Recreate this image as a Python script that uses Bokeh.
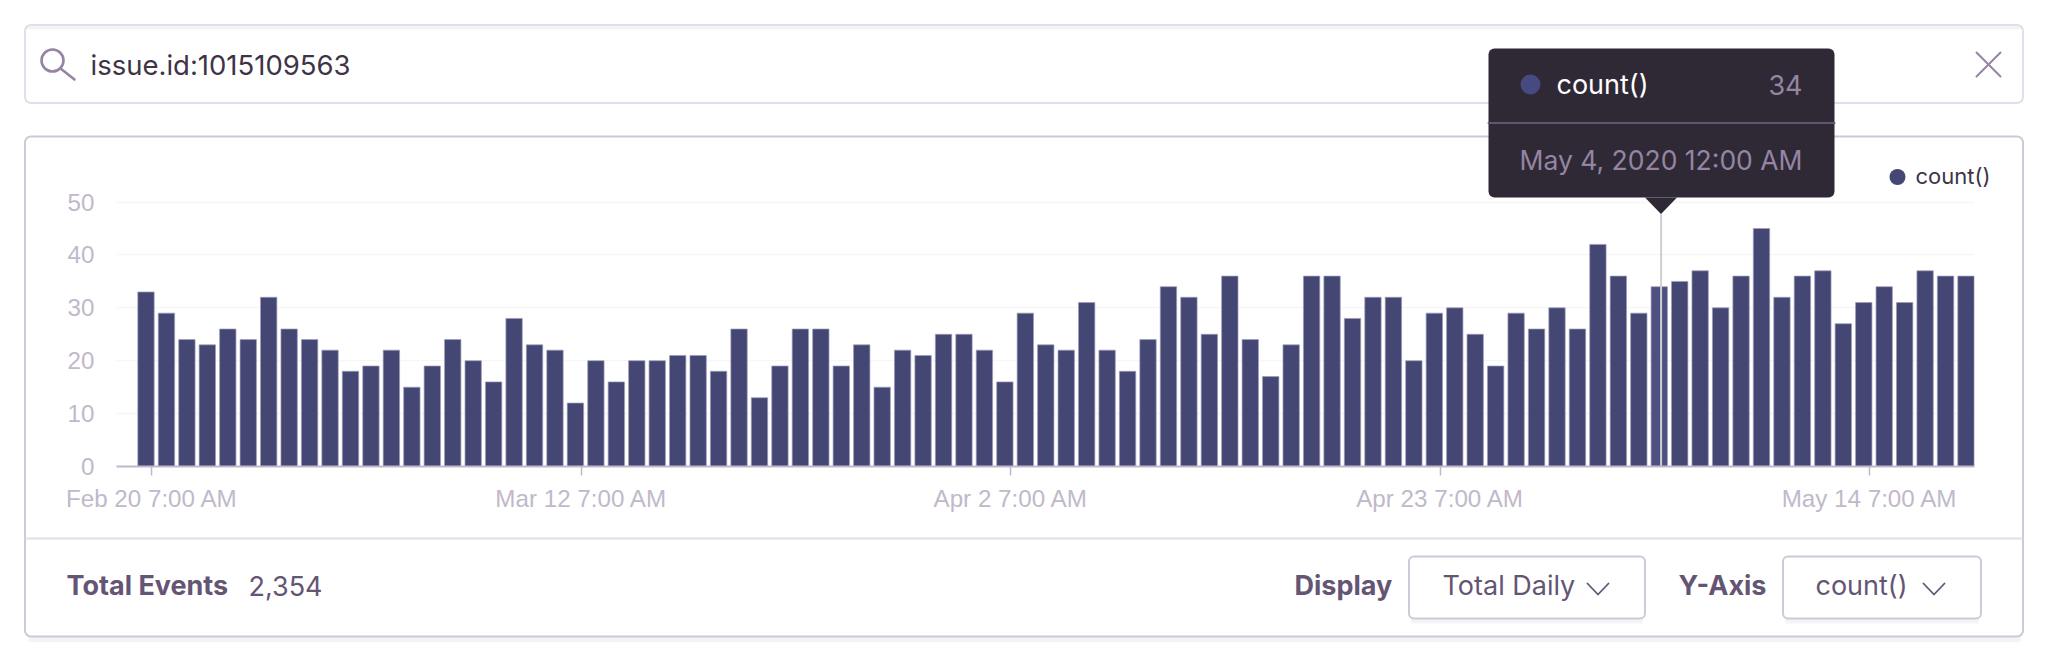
import pandas as pd
from bokeh.core.properties import value
from bokeh.embed import file_html
from bokeh.layouts import column
from bokeh.resources import INLINE
from bokeh.plotting import figure
from bokeh.models import ColumnDataSource, DatetimeTickFormatter, FixedTicker, Range1d

# ---- data ----
counts = [33, 29, 24, 23, 26, 24, 32, 26, 24, 22,
          18, 19, 22, 15, 19, 24, 20, 16, 28, 23,
          22, 12, 20, 16, 20, 20, 21, 21, 18, 26,
          13, 19, 26, 26, 19, 23, 15, 22, 21, 25,
          25, 22, 16, 29, 23, 22, 31, 22, 18, 24,
          34, 32, 25, 36, 24, 17, 23, 36, 36, 28,
          32, 32, 20, 29, 30, 25, 19, 29, 26, 30,
          26, 42, 36, 29, 34, 35, 37, 30, 36, 45,
          32, 36, 37, 27, 31, 34, 31, 37, 36, 36]
first_day = "2020-02-20"
tick_times = ["2020-02-20 07:00", "2020-03-12 07:00", "2020-04-02 07:00",
              "2020-04-23 07:00", "2020-05-14 07:00"]
y_ticks = [0, 10, 20, 30, 40, 50]
selected_day = "2020-05-04"
series_name = "count()"
query_text = "issue.id:1015109563"
tooltip_value = "34"
tooltip_date = "May 4, 2020 12:00 AM"
total_label = "Total Events"
total_value = "2,354"
display_label = "Display"
display_choice = "Total Daily"
yaxis_label = "Y-Axis"
yaxis_choice = "count()"

# ---- colours ----
BAR = "#444674"
BAR_HI = "#4d5080"
BAR_EDGE = "#9c9cb8"
AXIS = "#c1b9ca"
GRID = "#f6f5f7"
BORDER = "#cfc8d6"
BORDER_LIGHT = "#e2dde8"
SHADOW = "#f4f3f6"
TEXT_DARK = "#3e3446"
TEXT_MID = "#645574"
ICON = "#9585a3"
TIP = "#2f2936"
SANS = "Inter"
PLOT_FONT = "Liberation Sans"

DAY = pd.Timedelta(days=1)
dates = pd.date_range(first_day, periods=len(counts), freq="D")
start = dates[0] - 1.4425 * DAY
end = dates[-1] + 0.4156 * DAY
sel = pd.Timestamp(selected_day)
colors = [BAR_HI if d == sel else BAR for d in dates]
source = ColumnDataSource(dict(x=dates, y=counts, c=colors))


def ms(ts):
    return (pd.Timestamp(ts) - pd.Timestamp("1970-01-01")) / pd.Timedelta(milliseconds=1)


W, H = 2052, 652

# ---- the chart itself ----
p = figure(width=W, height=H, x_axis_type="datetime", output_backend="svg", toolbar_location=None,
           x_range=Range1d(ms(start), ms(end)), y_range=Range1d(0, 52),
           min_border_left=116, min_border_right=78, min_border_top=191, min_border_bottom=186,
           background_fill_color="white", border_fill_color="white", outline_line_color=None,
           frame_align=False)
p.vbar(x="x", top="y", width=0.8 * 86400000, bottom=0, source=source, fill_color="c",
       line_color=BAR_EDGE, line_width=1, line_alpha=0.7)
p.segment(x0=[sel + 0.09 * DAY], x1=[sel + 0.09 * DAY], y0=[0], y1=[47.8], line_color="#cfcfd2", line_width=2)

xa = p.xaxis[0]
xa.ticker = FixedTicker(ticks=[ms(t) for t in tick_times])
fmt = "%b %-d %-I:%M %p"
xa.formatter = DatetimeTickFormatter(milliseconds=fmt, seconds=fmt, minsec=fmt, minutes=fmt, hourmin=fmt,
                                     hours=fmt, days=fmt, months=fmt, years=fmt, context=None)
xa.axis_line_color = AXIS
xa.axis_line_width = 2
xa.major_tick_line_color = AXIS
xa.major_tick_line_width = 1.5
xa.major_tick_in = 0
xa.major_tick_out = 9
xa.minor_tick_line_color = None
xa.major_label_text_color = AXIS
xa.major_label_text_font = PLOT_FONT
xa.major_label_text_font_size = "24.2px"
xa.major_label_standoff = 9

ya = p.yaxis[0]
ya.ticker = FixedTicker(ticks=y_ticks)
ya.axis_line_color = None
ya.major_tick_line_color = None
ya.minor_tick_line_color = None
ya.major_label_text_color = AXIS
ya.major_label_text_font = PLOT_FONT
ya.major_label_text_font_size = "24.2px"
ya.major_label_standoff = 16

p.xgrid.visible = False
p.ygrid.ticker = FixedTicker(ticks=y_ticks[1:])
p.ygrid.grid_line_color = GRID
p.ygrid.grid_line_width = 1.5

# ---- the page furniture, on a transparent sheet above the chart, in page pixels ----
c = figure(width=W, height=H, output_backend="svg", toolbar_location=None,
           x_range=Range1d(0, W), y_range=Range1d(H, 0), x_axis_location=None, y_axis_location=None,
           min_border=0, background_fill_color=None, border_fill_color=None, outline_line_color=None,
           margin=(-H, 0, 0, 0), frame_align=False)
c.grid.visible = False


def box(l, t, r, b, fill=None, line=None, lw=1.0, radius=0):
    c.quad(left=[l], right=[r], top=[t], bottom=[b], fill_color=fill, line_color=line,
           line_width=lw, border_radius=radius)


def stroke(xs, ys, color, lw):
    c.line(xs, ys, line_color=color, line_width=lw, line_cap="round", line_join="round")


def dot(x, y, r, fill=None, line=None, lw=1.0):
    c.circle(x=[x], y=[y], radius=r, fill_color=fill, line_color=line, line_width=lw)


def text(x, y, s, size, color, font=SANS, style="normal", align="left"):
    c.text(x=[x], y=[y], text=[s], text_font=value(font), text_font_size=value(f"{size}px"),
           text_color=color, text_font_style=style, text_align=align, text_baseline="middle")


# search bar
box(26, 25, 2021, 29, fill=SHADOW)
box(24.5, 24.5, 2022.5, 102.5, line=BORDER_LIGHT, lw=2, radius=6)
dot(52, 60, 11, line=ICON, lw=2.6)
stroke([60, 74], [68, 79], ICON, 2.6)
text(90, 64, query_text, 27.5, TEXT_DARK)
stroke([1976, 2000], [52, 76], ICON, 2)
stroke([2000, 1976], [52, 76], ICON, 2)

# chart panel
box(28, 636, 2020, 641.5, fill=SHADOW)
box(24.5, 136, 2022.5, 636, line=BORDER, lw=2, radius=6)
stroke([25.5, 2021.5], [538, 538], BORDER_LIGHT, 2)

# legend
dot(1897, 176.5, 8, fill=BAR)
text(1915, 175, series_name, 22, TEXT_DARK)

# tooltip
box(1488, 48, 1834, 197, fill=TIP, radius=6)
c.patch([1644.5, 1676.5, 1660.5], [197, 197, 213.5], fill_color=TIP, line_color=None)
stroke([1488, 1834], [122.5, 122.5], TEXT_MID, 2)
dot(1530, 84, 10, fill="#474a80")
text(1556, 84, series_name, 27, "white")
text(1802, 84, tooltip_value, 27, ICON, align="right")
text(1519, 159, tooltip_date, 26.5, ICON)

# footer
text(66, 585, total_label, 27, TEXT_MID, style="bold")
text(248, 585, total_value, 27, TEXT_MID)
text(1294, 585, display_label, 27, TEXT_MID, style="bold")
text(1678, 585, yaxis_label, 27, TEXT_MID, style="bold")

for l, r, s, tx, cx in [(1408.5, 1644.5, display_choice, 1442, 1587), (1782.5, 1980.5, yaxis_choice, 1815, 1923)]:
    box(l + 2, 618, r - 2, 623, fill=SHADOW)
    box(l, 556, r, 618, fill="white", line=BORDER, lw=2, radius=5)
    text(tx, 585, s, 27, TEXT_MID)
    stroke([cx, cx + 10.5, cx + 21], [583, 594, 583], TEXT_MID, 1.8)

open("out.html", "w").write(file_html(column(p, c, spacing=0), INLINE))
